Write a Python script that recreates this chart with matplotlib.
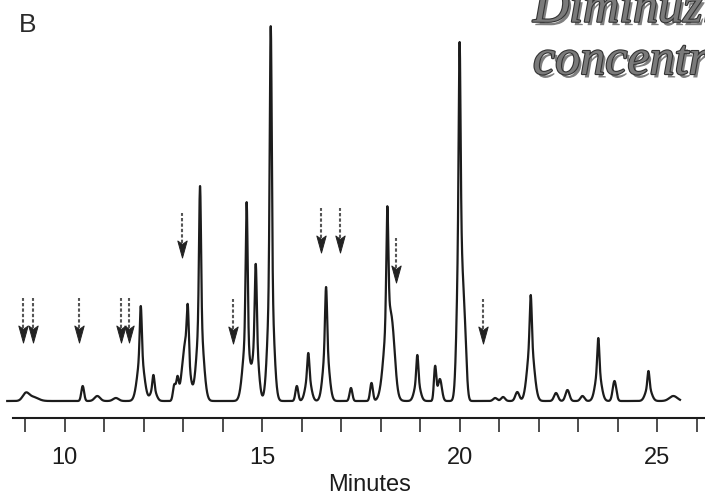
import numpy as np
import matplotlib
matplotlib.use("Agg")
import matplotlib.pyplot as plt
import matplotlib.patheffects as pe
from matplotlib.path import Path

# ---- data (retention time [min], height [a.u.], sigma [min]) ----
peak_times = [9.02, 9.20, 10.46, 10.83, 11.30,
              11.93, 11.93, 12.25, 12.25, 12.78, 12.86,
              13.07, 13.12, 13.43, 13.43,
              14.60, 14.61, 14.84, 14.84, 15.22, 15.22,
              15.88, 16.17, 16.17, 16.62, 16.62, 17.25, 17.77,
              18.20, 18.17, 18.32, 18.93, 18.93, 19.38, 19.50,
              20.00, 20.00, 20.12, 20.90, 21.10, 21.46,
              21.80, 21.80, 22.44, 22.73, 23.11,
              23.51, 23.51, 23.92, 24.78, 24.78, 25.41]
peak_heights = [7, 4, 15, 5, 3,
                45, 50, 12, 14, 16, 20,
                60, 45, 80, 135,
                64, 135, 60, 76, 120, 255,
                15, 25, 23, 54, 60, 13, 18,
                90, 107, 20, 20, 26, 34, 22,
                190, 165, 70, 3, 4, 9,
                58, 48, 8, 11, 5,
                30, 33, 20, 14, 16, 5]
peak_sigmas = [0.08, 0.13, 0.035, 0.07, 0.07,
               0.085, 0.025, 0.07, 0.025, 0.035, 0.03,
               0.09, 0.025, 0.085, 0.025,
               0.085, 0.025, 0.07, 0.025, 0.075, 0.025,
               0.035, 0.07, 0.025, 0.075, 0.025, 0.035, 0.035,
               0.11, 0.025, 0.06, 0.07, 0.025, 0.03, 0.05,
               0.06, 0.022, 0.05, 0.05, 0.05, 0.05,
               0.085, 0.025, 0.05, 0.05, 0.05,
               0.075, 0.025, 0.045, 0.075, 0.025, 0.10]
run_start, run_end = 8.55, 25.58

# arrows marking peaks (time [min], level of arrow tip [a.u.])
arrow_times = [8.94, 9.21, 10.37, 11.42, 11.64, 12.97, 14.26, 16.48, 16.96, 18.39, 20.60]
arrow_tips = [59, 59, 59, 59, 59, 144, 58, 149, 149, 119, 58]

tick_values = list(range(9, 27))
tick_labels = ["10", "15", "20", "25"]

# ---- figure ----
W, H = 705, 496
fig = plt.figure(figsize=(W / 100, H / 100), dpi=100)
fig.patch.set_facecolor("white")
ax = fig.add_axes([13 / W, 78.3 / H, 692 / W, 417.7 / H])
ax.set_xlim(8.696, 26.211)
ax.set_ylim(-16.7, 401)

t = np.arange(run_start, run_end, 0.003)
signal = np.zeros_like(t)
for tm, h, s in zip(peak_times, peak_heights, peak_sigmas):
    signal += h * np.exp(-0.5 * ((t - tm) / s) ** 2)

ink = "#1c1c1c"
ax.plot(t, signal, color=ink, lw=1.6, solid_joinstyle="round", clip_on=False)

# arrows: dashed shaft + notched filled head
head = Path([(-0.55, 1.0), (0.0, -1.0), (0.55, 1.0), (0.0, 0.6), (-0.55, 1.0)],
            [Path.MOVETO, Path.LINETO, Path.LINETO, Path.LINETO, Path.CLOSEPOLY])
arrow_len = 44
head_len = 17
for at, tip in zip(arrow_times, arrow_tips):
    ax.plot([at, at], [tip + head_len - 3, tip + arrow_len], color="#555555",
            lw=1.5, ls=(0, (1.6, 1.0)), clip_on=False)
    ax.plot([at], [tip + head_len / 2], marker=head, markersize=head_len * 0.72,
            color="#222222", mec="#222222", mew=0.7, ls="none", clip_on=False)

for sp in ["top", "right", "left"]:
    ax.spines[sp].set_visible(False)
ax.spines["bottom"].set_linewidth(1.5)
ax.spines["bottom"].set_color(ink)
ax.set_yticks([])
ax.set_xticks(tick_values)
ax.set_xticklabels([str(v) if str(v) in tick_labels else "" for v in tick_values])
ax.tick_params(axis="x", direction="out", length=10, width=1.1, pad=11,
               labelsize=17, colors=ink)
for lab in ax.get_xticklabels():
    lab.set_fontfamily("Liberation Sans")
ax.patch.set_alpha(0)

fig.text(370 / W, 1 - 491 / H, "Minutes", ha="center", va="baseline",
         fontsize=17, family="Liberation Sans", color=ink)
fig.text(19 / W, 1 - 32 / H, "B", ha="left", va="baseline",
         fontsize=19, family="Liberation Sans", color="#2a2a2a")

title_fx = [pe.SimplePatchShadow(offset=(2.0, -2.5), shadow_rgbFace="#000000", alpha=0.5),
            pe.Stroke(linewidth=1.6, foreground="#333333"), pe.Normal()]
for txt, ybase in [("Diminuzione", 21.7), ("concentrazione", 74)]:
    fig.text(533 / W, 1 - ybase / H, txt, ha="left", va="baseline",
             fontsize=36, family="Liberation Serif", style="italic", weight="normal",
             color="#7a7a7a", path_effects=title_fx)

fig.savefig("out.png", dpi=100, facecolor="white")
